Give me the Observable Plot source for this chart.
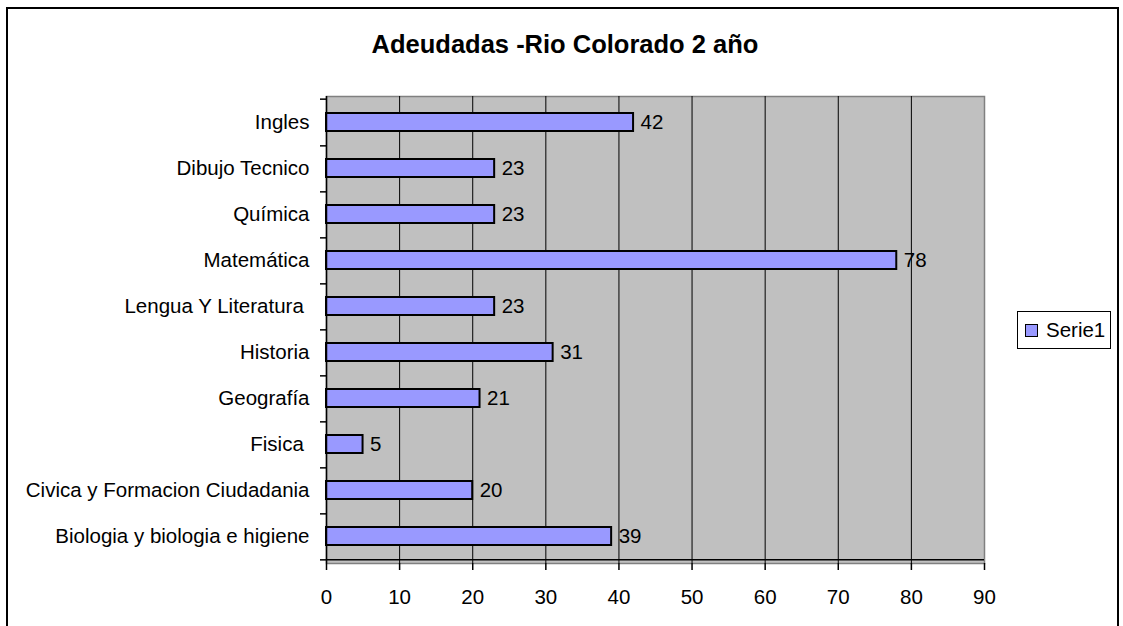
<!DOCTYPE html>
<html>
<head>
<meta charset="utf-8">
<script src="https://cdn.jsdelivr.net/npm/d3@7"></script>
<script src="https://cdn.jsdelivr.net/npm/@observablehq/plot@0.6"></script>
<style>
html, body { margin: 0; padding: 0; background: #fff; overflow: hidden; }
#wrap { position: relative; width: 1123px; height: 626px; font-family: Arial, "Liberation Sans", sans-serif; color: #000; }
#border { position: absolute; left: 6px; top: 7px; width: 1109px; height: 640px; border: 2px solid #000; }
#title { position: absolute; left: 0; width: 1130px; top: 32px; text-align: center; font-weight: bold; font-size: 25.5px; line-height: 25px; white-space: nowrap; }
#chart { position: absolute; left: 0; top: 0; }
#legend { position: absolute; left: 1017px; top: 311px; width: 92px; height: 36px; border: 1.5px solid #000; background: #fff; display: flex; align-items: center; box-sizing: content-box; }
#legend .sw { width: 11px; height: 11px; border: 1.5px solid #000; margin-left: 7px; margin-right: 8px; }
#legend .lb { font-size: 20.5px; line-height: 20px; }
</style>
</head>
<body>
<div id="wrap">
  <div id="border"></div>
  <div id="title"></div>
  <div id="chart"></div>
  <div id="legend"><div class="sw"></div><div class="lb"></div></div>
</div>
<script>
const chartTitle = "Adeudadas -Rio Colorado 2 año";
const seriesName = "Serie1";
const categories = [
  "Ingles",
  "Dibujo Tecnico",
  "Química",
  "Matemática",
  "Lengua Y Literatura ",
  "Historia",
  "Geografía",
  "Fisica ",
  "Civica y Formacion Ciudadania",
  "Biologia y biologia e higiene"
];
const values = [42, 23, 23, 78, 23, 31, 21, 5, 20, 39];
const xTicks = [0, 10, 20, 30, 40, 50, 60, 70, 80, 90];
const barColor = "#9999FF";

const data = categories.map((c, i) => ({category: c, value: values[i]}));

const W = 1123, H = 626, mt = 96, mb = 63, ml = 326, mr = 139;
const step = (H - mt - mb) / categories.length;

document.getElementById("title").textContent = chartTitle;
document.querySelector("#legend .lb").textContent = seriesName;
document.querySelector("#legend .sw").style.background = barColor;

const chart = Plot.plot({
  width: W,
  height: H,
  marginTop: mt,
  marginBottom: mb,
  marginLeft: ml,
  marginRight: mr,
  style: {fontFamily: 'Arial, "Liberation Sans", sans-serif', fontSize: "20.5px", background: "transparent", color: "#000", overflow: "visible"},
  x: {domain: [xTicks[0], xTicks[xTicks.length - 1]], ticks: xTicks, label: null},
  y: {domain: categories, paddingInner: 0.6, paddingOuter: 0.3, label: null},
  marks: [
    Plot.frame({fill: "#C0C0C0", stroke: "#808080", strokeWidth: 1.5}),
    Plot.ruleX(xTicks.slice(1, -1), {stroke: "#000", strokeWidth: 1}),
    Plot.barX(data, {x: "value", y: "category", fill: barColor, stroke: "#000", strokeWidth: 2}),
    Plot.text(data, {x: "value", y: "category", text: d => String(d.value), textAnchor: "start", dx: 7, fill: "#000", fontSize: 20.5}),
    Plot.ruleX([xTicks[0]], {stroke: "#000", strokeWidth: 1.5}),
    Plot.ruleY([categories[categories.length - 1]], {dy: step / 2, stroke: "#000", strokeWidth: 1.5}),
    Plot.axisX({ticks: xTicks, tickSize: 7, tickPadding: 19, tickFormat: d => String(d), stroke: "#000", strokeWidth: 1.5, fontSize: 20.5, label: null}),
    Plot.axisY({tickSize: 0, tickPadding: 17, fontSize: 20.5, tickFormat: d => d.replace(/ $/, "\u00a0"), label: null}),
    Plot.axisY({ticks: categories, tickSize: 6, tickFormat: () => "", dy: step / 2, stroke: "#000", strokeWidth: 1.5, label: null}),
    Plot.axisY({ticks: [categories[0]], tickSize: 6, tickFormat: () => "", dy: -step / 2, stroke: "#000", strokeWidth: 1.5, label: null})
  ]
});
document.getElementById("chart").appendChild(chart);
</script>
</body>
</html>
